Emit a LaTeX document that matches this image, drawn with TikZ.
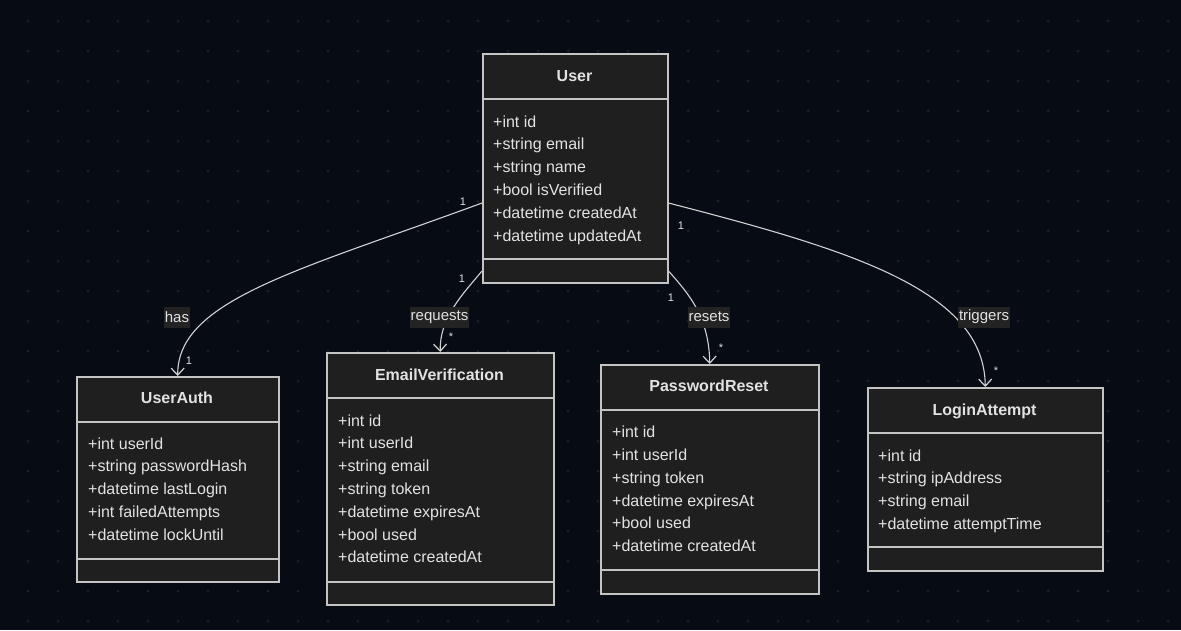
\documentclass[tikz,border=0pt]{standalone}
\usepackage{fontspec}
\setmainfont{Liberation Sans}
\usetikzlibrary{arrows.meta}
\definecolor{bg}{HTML}{070B14}
\definecolor{griddot}{HTML}{1D212B}
\definecolor{boxfill}{HTML}{1F1F1F}
\definecolor{boxline}{HTML}{C4C4C4}
\definecolor{ink}{HTML}{E2E2E2}
\definecolor{edgeline}{HTML}{D2D2D2}
\definecolor{lblfill}{HTML}{232323}
\begin{document}
\begin{tikzpicture}[x=1pt,y=-1pt,
  classbox/.style={draw=boxline, fill=boxfill, line width=1.5pt, inner sep=0pt, anchor=north west},
  divider/.style={draw=boxline, line width=1.5pt},
  ctitle/.style={text=ink, font=\fontsize{16}{19}\selectfont\bfseries, anchor=base, inner sep=0pt},
  attr/.style={text=ink, font=\fontsize{16}{19}\selectfont, anchor=base west, inner sep=0pt},
  assoc/.style={draw=edgeline, line width=1.1pt, -{Straight Barb[length=7pt,width=13pt,line width=1.2pt]}},
  rel/.style={fill=lblfill, text=ink, font=\fontsize{15}{18}\selectfont, inner xsep=1pt, inner ysep=0pt, minimum height=21pt},
  card/.style={text=ink, font=\fontsize{11}{13}\selectfont, inner sep=0pt},
]
% canvas and dotted grid
\useasboundingbox (0,0) rectangle (1181,630);
\fill[bg] (0,0) rectangle (1181,630);
\foreach \i in {0,...,38} {
  \foreach \j in {0,...,20} {
    \fill[griddot] (28+30*\i, 21+30*\j) circle (1.5pt);
  }
}

% ---------- User ----------
\node[classbox, minimum width=185pt, minimum height=229pt] (user) at (482,53) {};
\draw[divider] ([yshift=-46pt]user.north west) -- ([yshift=-46pt]user.north east);
\draw[divider] ([yshift=-206pt]user.north west) -- ([yshift=-206pt]user.north east);
\node[ctitle] (userT) at (574.5,81) {User};
\node[attr] (user1) at (493,127) {+int id};
\node[attr] (user2) at (493,149.8) {+string email};
\node[attr] (user3) at (493,172.6) {+string name};
\node[attr] (user4) at (493,195.4) {+bool isVerified};
\node[attr] (user5) at (493,218.2) {+datetime createdAt};
\node[attr] (user6) at (493,241) {+datetime updatedAt};

% ---------- UserAuth ----------
\node[classbox, minimum width=202pt, minimum height=205pt] (uauth) at (76,376) {};
\draw[divider] ([yshift=-46pt]uauth.north west) -- ([yshift=-46pt]uauth.north east);
\draw[divider] ([yshift=-183pt]uauth.north west) -- ([yshift=-183pt]uauth.north east);
\node[ctitle] (uauthT) at (177,403.5) {UserAuth};
\node[attr] (uauth1) at (88,449) {+int userId};
\node[attr] (uauth2) at (88,471.8) {+string passwordHash};
\node[attr] (uauth3) at (88,494.6) {+datetime lastLogin};
\node[attr] (uauth4) at (88,517.4) {+int failedAttempts};
\node[attr] (uauth5) at (88,540.2) {+datetime lockUntil};

% ---------- EmailVerification ----------
\node[classbox, minimum width=227pt, minimum height=252pt] (ev) at (326,352) {};
\draw[divider] ([yshift=-46pt]ev.north west) -- ([yshift=-46pt]ev.north east);
\draw[divider] ([yshift=-230pt]ev.north west) -- ([yshift=-230pt]ev.north east);
\node[ctitle] (evT) at (439.5,380) {EmailVerification};
\node[attr] (ev1) at (338,426) {+int id};
\node[attr] (ev2) at (338,448.8) {+int userId};
\node[attr] (ev3) at (338,471.6) {+string email};
\node[attr] (ev4) at (338,494.4) {+string token};
\node[attr] (ev5) at (338,517.2) {+datetime expiresAt};
\node[attr] (ev6) at (338,540) {+bool used};
\node[attr] (ev7) at (338,562.8) {+datetime createdAt};

% ---------- PasswordReset ----------
\node[classbox, minimum width=218pt, minimum height=229pt] (pr) at (600,364) {};
\draw[divider] ([yshift=-46pt]pr.north west) -- ([yshift=-46pt]pr.north east);
\draw[divider] ([yshift=-206pt]pr.north west) -- ([yshift=-206pt]pr.north east);
\node[ctitle] (prT) at (709,391.7) {PasswordReset};
\node[attr] (pr1) at (612,437.7) {+int id};
\node[attr] (pr2) at (612,460.5) {+int userId};
\node[attr] (pr3) at (612,483.3) {+string token};
\node[attr] (pr4) at (612,506.1) {+datetime expiresAt};
\node[attr] (pr5) at (612,528.9) {+bool used};
\node[attr] (pr6) at (612,551.7) {+datetime createdAt};

% ---------- LoginAttempt ----------
\node[classbox, minimum width=235pt, minimum height=183pt] (la) at (867,387) {};
\draw[divider] ([yshift=-46pt]la.north west) -- ([yshift=-46pt]la.north east);
\draw[divider] ([yshift=-160pt]la.north west) -- ([yshift=-160pt]la.north east);
\node[ctitle] (laT) at (984.5,415) {LoginAttempt};
\node[attr] (la1) at (878,461) {+int id};
\node[attr] (la2) at (878,483.8) {+string ipAddress};
\node[attr] (la3) at (878,506.6) {+string email};
\node[attr] (la4) at (878,529.4) {+datetime attemptTime};

% ---------- associations ----------
\draw[assoc] ([yshift=-150pt]user.north west) .. controls (300,270) and (177,300) .. (uauth.north);
\draw[assoc] ([yshift=-218pt]user.north west) .. controls (462,295) and (439.5,318) .. (ev.north);
\draw[assoc] ([yshift=-218pt]user.north east) .. controls (690,295) and (709,318) .. (pr.north);
\draw[assoc] ([yshift=-150pt]user.north east) .. controls (850,250) and (984.5,290) .. (la.north);

% relation names
\node[rel] (lhas) at (177,317) {has};
\node[rel] (lreq) at (439.5,317) {requests};
\node[rel] (lres) at (709,317) {resets};
\node[rel] (ltrg) at (984,317) {triggers};

% multiplicities
\node[card] (c1a) at (463,202) {1};
\node[card] (c1b) at (189,361) {1};
\node[card] (c2a) at (462,279) {1};
\node[card] (c2b) at (451,337) {*};
\node[card] (c3a) at (671,298) {1};
\node[card] (c3b) at (721,348) {*};
\node[card] (c4a) at (681,226) {1};
\node[card] (c4b) at (996,371) {*};
\end{tikzpicture}
\end{document}
